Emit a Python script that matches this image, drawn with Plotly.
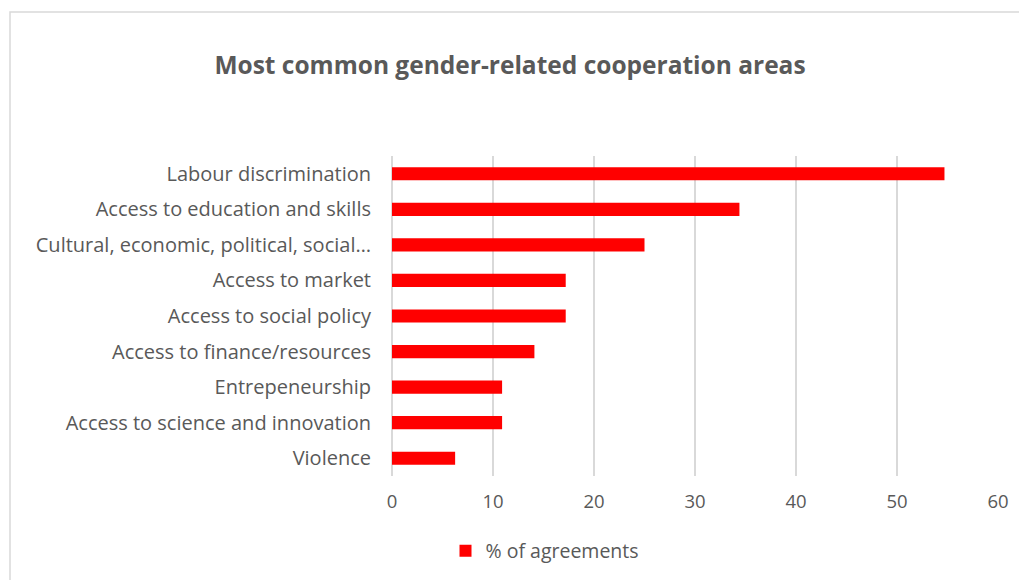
import plotly.graph_objects as go

categories = [
    "Labour discrimination",
    "Access to education and skills",
    "Cultural, economic, political, social…",
    "Access to market",
    "Access to social policy",
    "Access to finance/resources",
    "Entrepeneurship",
    "Access to science and innovation",
    "Violence",
]
values = [54.7, 34.4, 25.0, 17.2, 17.2, 14.1, 10.9, 10.9, 6.25]
series_name = "% of agreements"
tick_vals = [0, 10, 20, 30, 40, 50, 60]

W, H = 1019, 580
L, R, T, B = 392, 21, 156, 104
pw, ph = W - L - R, H - T - B

fig = go.Figure()
fig.add_trace(go.Bar(
    x=values, y=categories, orientation="h", name=series_name,
    marker=dict(color="#FF0000", line=dict(width=0)), width=0.37,
    showlegend=True,
))

fig.update_layout(
    width=W, height=H,
    margin=dict(l=L, r=R, t=T, b=B, autoexpand=False),
    paper_bgcolor="white", plot_bgcolor="white",
    font=dict(family="'Open Sans', sans-serif", color="#595959", size=18),
    title=dict(text="<b>Most common gender-related cooperation areas</b>",
               x=510 / W, xanchor="center", xref="container",
               y=1 - 65 / H, yanchor="middle", yref="container",
               font=dict(size=24.5, color="#595959")),
    xaxis=dict(range=[0, 60], tickvals=tick_vals, showgrid=True,
               gridcolor="#d9d9d9", gridwidth=1.5, zeroline=True,
               zerolinecolor="#d9d9d9", zerolinewidth=1.5,
               showline=False, ticks="", tickfont=dict(size=18.5),
               ticklabelstandoff=12),
    yaxis=dict(autorange="reversed", showgrid=False, ticks="",
               showline=False, tickfont=dict(size=20), ticklabelstandoff=20),
    showlegend=True,
    legend=dict(orientation="h", x=545 / W, xanchor="center", xref="container",
                y=1 - 551 / H, yanchor="middle", yref="container",
                font=dict(size=19.5, color="#595959"), itemwidth=30),
    shapes=[dict(type="rect", xref="paper", yref="paper",
                 x0=(10 - L) / pw, x1=(1030 - L) / pw,
                 y0=(H - B - 600) / ph, y1=(H - B - 12) / ph,
                 line=dict(color="#d9d9d9", width=1.5), layer="below")],
)

fig.write_html("out.html")
